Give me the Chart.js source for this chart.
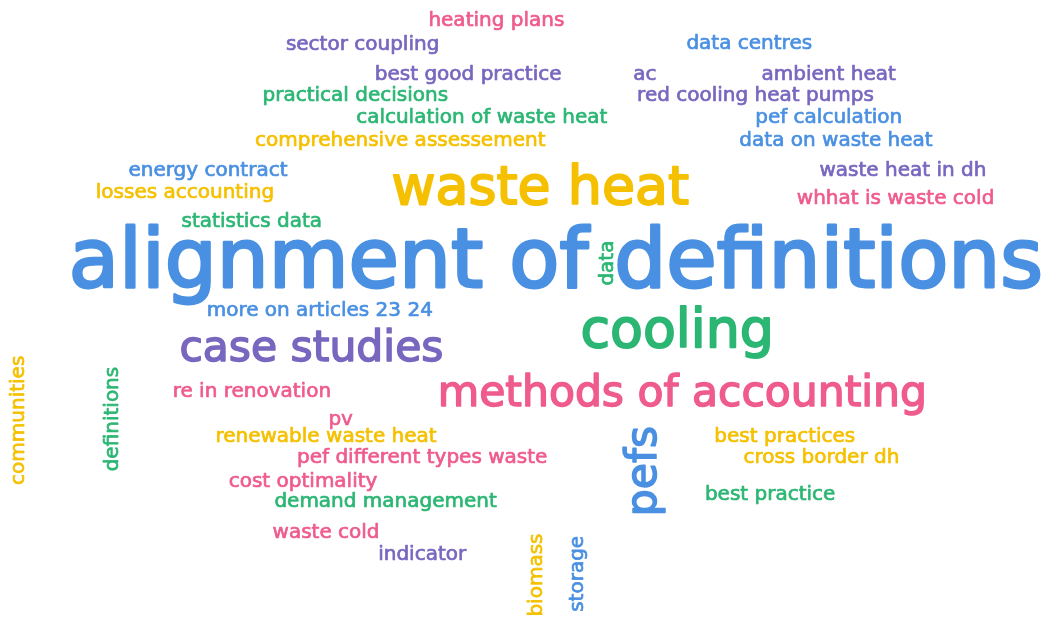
<!DOCTYPE html>
<html>
<head>
<meta charset="utf-8">
<script src="https://cdn.jsdelivr.net/npm/chart.js@4.4.1/dist/chart.umd.min.js"></script>
<style>
    html, body { margin: 0; padding: 0; background: #ffffff; }
    #wrap { width: 1045px; height: 619px; position: relative; }
</style>
</head>
<body>
<div id="wrap"><canvas id="cloudChart"></canvas></div>
<script>
// word cloud answers, how often each was given, and where it sits (0-100 on both axes)
const words = [
    'heating plans', 'sector coupling', 'data centres', 'best good practice', 'ac',
    'ambient heat', 'practical decisions', 'red cooling heat pumps', 'calculation of waste heat', 'pef calculation',
    'comprehensive assessement', 'data on waste heat', 'energy contract', 'waste heat in dh', 'losses accounting',
    'waste heat', 'whhat is waste cold', 'statistics data', 'alignment of definitions', 'more on articles 23 24',
    'case studies', 'cooling', 're in renovation', 'methods of accounting', 'pv',
    'renewable waste heat', 'best practices', 'pef different types waste', 'cross border dh', 'cost optimality',
    'demand management', 'best practice', 'waste cold', 'indicator', 'data',
    'communities', 'definitions', 'pefs', 'biomass', 'storage'
];
const counts = [
    1, 1, 1, 1, 1,
    1, 1, 1, 1, 1,
    1, 1, 1, 1, 1,
    7, 1, 1, 12, 1,
    5, 7, 1, 5, 1,
    1, 1, 1, 1, 1,
    1, 1, 1, 1, 1,
    1, 1, 5, 1, 1
];
const posX = [
    47.5, 34.7, 71.7, 44.8, 61.7,
    79.3, 34.0, 72.3, 46.1, 79.3,
    38.3, 80.0, 19.9, 86.4, 17.7,
    51.7, 85.7, 24.1, 53.2, 30.6,
    29.8, 64.8, 24.1, 65.3, 32.6,
    31.2, 75.1, 40.4, 78.6, 29.0,
    36.9, 73.7, 31.2, 40.4, 58.7,
    2.3, 11.3, 62.8, 51.9, 55.8
];
const posY = [
    4.2, 8.1, 7.9, 12.9, 12.9,
    12.9, 16.3, 16.3, 19.9, 19.9,
    23.6, 23.6, 28.4, 28.4, 32.0,
    33.0, 33.0, 36.7, 46.4, 51.1,
    58.3, 56.1, 64.1, 65.6, 68.7,
    71.4, 71.4, 74.8, 74.8, 78.7,
    81.9, 80.8, 86.9, 90.5, 42.5,
    67.9, 67.7, 76.1, 92.9, 92.7
];
// 1 = written bottom to top
const vertical = [
    0, 0, 0, 0, 0, 0, 0, 0, 0, 0,
    0, 0, 0, 0, 0, 0, 0, 0, 0, 0,
    0, 0, 0, 0, 0, 0, 0, 0, 0, 0,
    0, 0, 0, 0, 1, 1, 1, 1, 1, 1
];

const palette = {
    blue: '#4a90e2',
    yellow: '#f5c000',
    green: '#2bb673',
    purple: '#7866bf',
    pink: '#ef5b8d'
};
const wordColors = [
    'pink', 'purple', 'blue', 'purple', 'purple',
    'purple', 'green', 'purple', 'green', 'blue',
    'yellow', 'blue', 'blue', 'purple', 'yellow',
    'yellow', 'pink', 'green', 'blue', 'blue',
    'purple', 'green', 'pink', 'pink', 'pink',
    'yellow', 'yellow', 'pink', 'yellow', 'pink',
    'green', 'green', 'pink', 'purple', 'green',
    'yellow', 'green', 'blue', 'yellow', 'blue'
];

const minFont = 20;
const maxFont = 82;
const maxCount = Math.max(...counts);
function fontFor(count) {
    return minFont + (count - 1) / (maxCount - 1) * (maxFont - minFont);
}

const wordPlugin = {
    id: 'wordLabels',
    afterDatasetsDraw(chart) {
        const ctx = chart.ctx;
        const meta = chart.getDatasetMeta(0);
        meta.data.forEach((pt, i) => {
            const size = fontFor(counts[i]);
            const colour = palette[wordColors[i]];
            ctx.save();
            ctx.font = size.toFixed(1) + 'px "DejaVu Sans"';
            ctx.fillStyle = colour;
            ctx.strokeStyle = colour;
            // a touch of stroke so the glyphs look medium weight
            ctx.lineWidth = size * 0.035;
            ctx.lineJoin = 'round';
            ctx.textAlign = 'center';
            ctx.textBaseline = 'alphabetic';
            ctx.translate(pt.x, pt.y);
            if (vertical[i]) ctx.rotate(-Math.PI / 2);
            ctx.strokeText(words[i], 0, 0);
            ctx.fillText(words[i], 0, 0);
            ctx.restore();
        });
    }
};

const ctx = document.getElementById('cloudChart').getContext('2d');
const cloudChart = new Chart(ctx, {
    type: 'scatter',
    data: {
        datasets: [{
            label: 'answers',
            data: words.map((w, i) => ({ x: posX[i], y: posY[i] })),
            pointRadius: 0,
            pointHoverRadius: 0
        }]
    },
    options: {
        responsive: true,
        maintainAspectRatio: false,
        animation: false,
        layout: { padding: 0 },
        plugins: {
            legend: { display: false },
            tooltip: { enabled: false }
        },
        scales: {
            x: { type: 'linear', min: 0, max: 100, display: false },
            y: { type: 'linear', min: 0, max: 100, reverse: true, display: false }
        }
    },
    plugins: [wordPlugin]
});
</script>
</body>
</html>
